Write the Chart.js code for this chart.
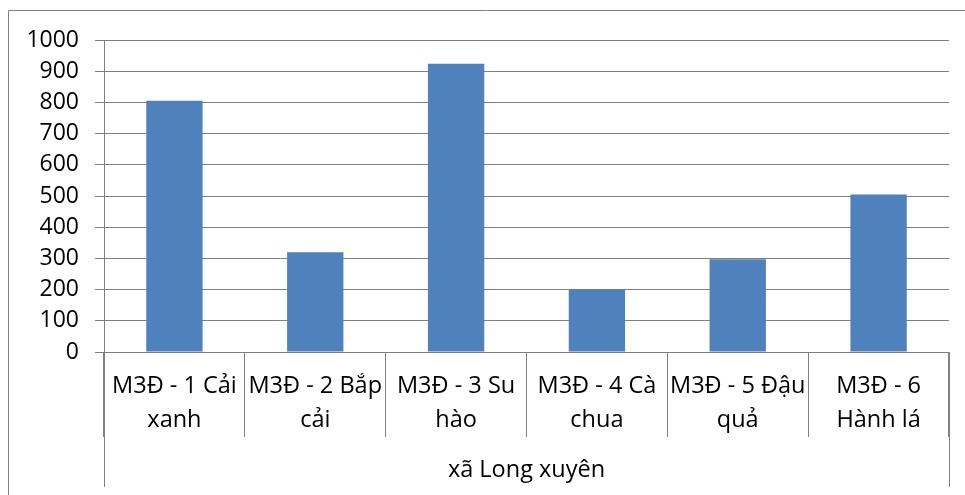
<!DOCTYPE html>
<html>
<head>
<meta charset="utf-8">
<script src="https://cdn.jsdelivr.net/npm/chart.js@4/dist/chart.umd.min.js"></script>
<style>
  html, body { margin: 0; padding: 0; background: #fff; }
  #wrap { width: 965px; height: 495px; }
</style>
</head>
<body>
<div id="wrap"><canvas id="chart" width="965" height="495"></canvas></div>
<script>
// du lieu doc tu bieu do
const categories = [
  ['M3Đ - 1 Cải', 'xanh'],
  ['M3Đ - 2 Bắp', 'cải'],
  ['M3Đ - 3 Su', 'hào'],
  ['M3Đ - 4 Cà', 'chua'],
  ['M3Đ - 5 Đậu', 'quả'],
  ['M3Đ - 6', 'Hành lá']
]
const values = [805, 320, 924, 200, 297, 505]
const groupLabel = 'xã Long xuyên'
const yMin = 0
const yMax = 1000
const yStep = 100

const lineColor = '#808080'
const barColor = '#4f81bd'
const fontFamily = '"Open Sans", "Noto Sans", sans-serif'

// khung ngoai + hai duong doc dai cua nhom
const framePlugin = {
  id: 'frame',
  afterDraw(chart) {
    const ctx = chart.ctx
    const x = chart.scales.x
    ctx.save()
    ctx.strokeStyle = lineColor
    ctx.lineWidth = 1
    ctx.beginPath()
    ctx.moveTo(8.5, 495)
    ctx.lineTo(8.5, 10.5)
    ctx.lineTo(965, 10.5)
    // duong bien trai/phai cua nhom xa
    const l = Math.round(x.getPixelForValue(-0.5)) + 0.5
    const r = Math.round(x.getPixelForValue(categories.length - 0.5)) + 0.5
    ctx.moveTo(l, x.top)
    ctx.lineTo(l, x.bottom)
    ctx.moveTo(r, x.top)
    ctx.lineTo(r, x.bottom)
    ctx.stroke()
    ctx.restore()
  }
}

const ctx = document.getElementById('chart').getContext('2d')
const chart = new Chart(ctx, {
  type: 'bar',
  data: {
    labels: categories,
    datasets: [{
      data: values,
      backgroundColor: barColor,
      borderColor: barColor,
      borderWidth: 0,
      categoryPercentage: 1,
      barPercentage: 0.4
    }]
  },
  options: {
    responsive: false,
    animation: false,
    layout: { padding: { left: 8, right: 16, top: 40, bottom: 8 } },
    plugins: {
      legend: { display: false },
      tooltip: { enabled: false }
    },
    scales: {
      x: {
        offset: true,
        grid: {
          offset: true,
          drawOnChartArea: false,
          drawTicks: true,
          tickLength: 85,
          tickColor: lineColor,
          lineWidth: 1
        },
        border: { display: true, color: lineColor, width: 1 },
        ticks: {
          color: '#000',
          padding: -68,
          maxRotation: 0,
          autoSkip: false,
          font: { family: fontFamily, size: 23.5, lineHeight: 1.45 }
        },
        title: {
          display: true,
          text: groupLabel,
          color: '#000',
          padding: { top: 0, bottom: 3 },
          font: { family: fontFamily, size: 23.5, lineHeight: 1.2 }
        },
        afterFit(scale) { scale.height = 135 }
      },
      y: {
        min: yMin,
        max: yMax,
        grid: {
          color: lineColor,
          tickColor: lineColor,
          tickLength: 9,
          lineWidth: 1
        },
        border: { display: true, color: lineColor, width: 1 },
        ticks: {
          stepSize: yStep,
          color: '#000',
          padding: 16,
          font: { family: fontFamily, size: 23 },
          callback: (v) => String(v)
        },
        afterFit(scale) { scale.width = 96 }
      }
    }
  },
  plugins: [framePlugin]
})
</script>
</body>
</html>
